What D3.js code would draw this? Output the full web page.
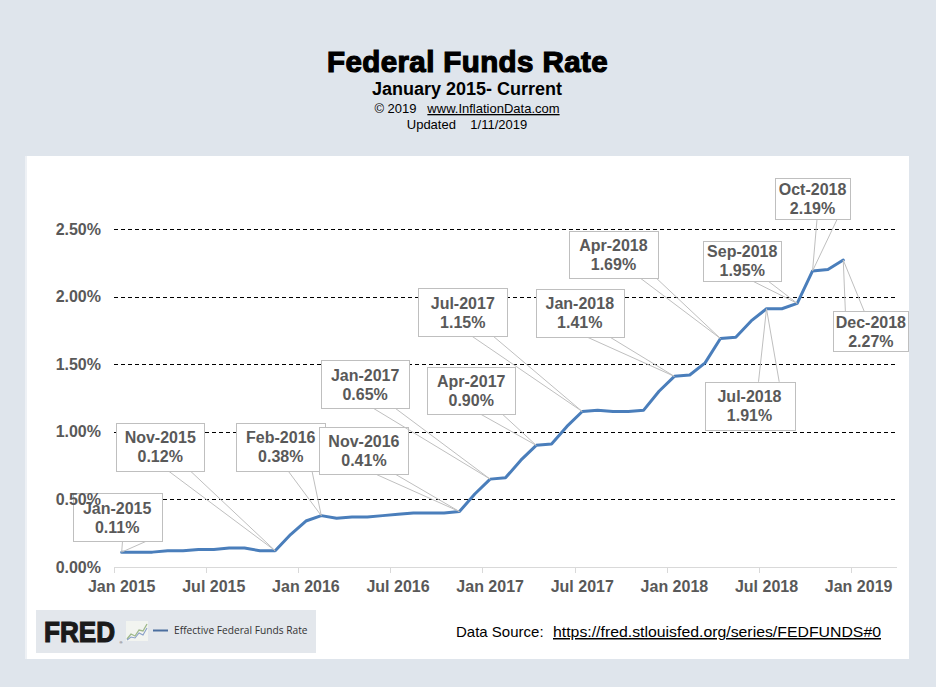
<!DOCTYPE html>
<html>
<head>
<meta charset="utf-8">
<script src="https://cdn.jsdelivr.net/npm/d3@7/dist/d3.min.js"></script>
<style>
  html, body { margin: 0; padding: 0; background: #dfe5ec; }
  svg { display: block; font-family: Arial, "Liberation Sans", sans-serif; }
</style>
</head>
<body>
<svg id="chart" width="936" height="687"></svg>
<script>
// ---------------- DATA ----------------
const months = [];
for (let yr = 2015; yr <= 2019; yr++) {
  for (let m = 1; m <= 12; m++) {
    if (yr === 2019 && m > 3) break;
    months.push(yr + "-" + String(m).padStart(2, "0"));
  }
}
const rateMonths = months.slice(0, 48); // Jan 2015 .. Dec 2018
const rates = [
  0.11, 0.11, 0.11, 0.12, 0.12, 0.13, 0.13, 0.14, 0.14, 0.12, 0.12, 0.24,
  0.34, 0.38, 0.36, 0.37, 0.37, 0.38, 0.39, 0.40, 0.40, 0.40, 0.41, 0.54,
  0.65, 0.66, 0.79, 0.90, 0.91, 1.04, 1.15, 1.16, 1.15, 1.15, 1.16, 1.30,
  1.41, 1.42, 1.51, 1.69, 1.70, 1.82, 1.91, 1.91, 1.95, 2.19, 2.20, 2.27
];
const tickMonths = ["2015-01", "2015-07", "2016-01", "2016-07", "2017-01", "2017-07", "2018-01", "2018-07", "2019-01"];
const tickLabels = ["Jan 2015", "Jul 2015", "Jan 2016", "Jul 2016", "Jan 2017", "Jul 2017", "Jan 2018", "Jul 2018", "Jan 2019"];
const yTicks = [0, 0.5, 1.0, 1.5, 2.0, 2.5];
const calloutMonths = ["2015-01", "2015-11", "2016-02", "2016-11", "2017-01", "2017-04", "2017-07", "2018-01", "2018-04", "2018-09", "2018-10", "2018-12", "2018-07"];
const calloutNames = ["Jan-2015", "Nov-2015", "Feb-2016", "Nov-2016", "Jan-2017", "Apr-2017", "Jul-2017", "Jan-2018", "Apr-2018", "Sep-2018", "Oct-2018", "Dec-2018", "Jul-2018"];

// ---------------- LAYOUT (callout placement, relative to its point) ----------------
// dx, dy: box centre offset from point; w, h: box size; b0, b1: wedge base fractions along edge; top: wedge leaves from top edge
const calloutLayout = [
  { dx: -4.5, dy: -35, w: 89, h: 48, b0: 0.56, b1: 0.83, top: false },
  { dx: -115, dy: -104, w: 88, h: 48, b0: 0.59, b1: 0.84, top: false },
  { dx: -40.5, dy: -69, w: 89, h: 48, b0: 0.58, b1: 0.85, top: false },
  { dx: -95.5, dy: -61, w: 89, h: 47, b0: 0.63, b1: 0.85, top: false },
  { dx: -125, dy: -95, w: 88, h: 48, b0: 0.59, b1: 0.84, top: false },
  { dx: -65, dy: -55, w: 88, h: 47, b0: 0.60, b1: 0.85, top: false },
  { dx: -119.5, dy: -99.5, w: 89, h: 48, b0: 0.60, b1: 0.84, top: false },
  { dx: -94.6, dy: -63.4, w: 88, h: 48, b0: 0.58, b1: 0.84, top: false },
  { dx: -107, dy: -84, w: 89, h: 47, b0: 0.80, b1: 0.98, top: false },
  { dx: -55, dy: -42.4, w: 78, h: 40, b0: 0.63, b1: 0.83, top: false },
  { dx: 0, dy: -72.5, w: 75, h: 41, b0: 0.56, b1: 0.83, top: false },
  { dx: 27.6, dy: 71, w: 75, h: 40, b0: 0.16, b1: 0.41, top: true },
  { dx: -17, dy: 97, w: 90, h: 48, b0: 0.60, b1: 0.83, top: true }
];

// ---------------- DRAW ----------------
const svg = d3.select("#chart");
const W = 936, H = 687;
const plot = { left: 114, right: 897, top: 229, bottom: 567 };

svg.append("rect").attr("width", W).attr("height", H).attr("fill", "#dfe5ec");
// white panel
svg.append("rect").attr("x", 25).attr("y", 156).attr("width", 2).attr("height", 503).attr("fill", "#eef1f5");
svg.append("rect").attr("x", 27).attr("y", 156).attr("width", 882).attr("height", 503).attr("fill", "#ffffff");

// titles
svg.append("text").attr("x", 467.5).attr("y", 72).attr("text-anchor", "middle")
  .attr("font-size", 29.5).attr("font-weight", "bold").attr("fill", "#000")
  .attr("stroke", "#000").attr("stroke-width", 1.2).attr("letter-spacing", 0.4)
  .text("Federal Funds Rate");
svg.append("text").attr("x", 467).attr("y", 95).attr("text-anchor", "middle")
  .attr("font-size", 18).attr("font-weight", "bold").attr("fill", "#000")
  .text("January 2015- Current");
const copy = svg.append("text").attr("x", 467).attr("y", 113).attr("text-anchor", "middle")
  .attr("font-size", 13).attr("fill", "#000");
copy.append("tspan").text("\u00A9 2019\u00A0\u00A0\u00A0");
copy.append("tspan").attr("text-decoration", "underline").text("www.InflationData.com");
svg.append("text").attr("x", 467).attr("y", 129).attr("text-anchor", "middle")
  .attr("font-size", 13).attr("fill", "#000")
  .text("Updated\u00A0\u00A0\u00A0 1/11/2019");

// scales
const x = d3.scaleBand().domain(months).range([plot.left, plot.right]).paddingInner(0).paddingOuter(0);
const y = d3.scaleLinear().domain([0, 2.5]).range([plot.bottom, plot.top]);
const cx = m => x(m) + x.bandwidth() / 2;

// gridlines
svg.append("g").selectAll("line").data(yTicks.filter(v => v > 0)).join("line")
  .attr("x1", plot.left).attr("x2", plot.right)
  .attr("y1", d => Math.round(y(d)) + 0.5).attr("y2", d => Math.round(y(d)) + 0.5)
  .attr("stroke", "#000").attr("stroke-width", 1).attr("stroke-dasharray", "4,3");

// x axis line and ticks
svg.append("line").attr("x1", plot.left).attr("x2", plot.right)
  .attr("y1", plot.bottom + 0.5).attr("y2", plot.bottom + 0.5)
  .attr("stroke", "#d9d9d9").attr("stroke-width", 1);
svg.append("g").selectAll("line").data(tickMonths).join("line")
  .attr("x1", d => Math.round(x(d)) + 0.5).attr("x2", d => Math.round(x(d)) + 0.5)
  .attr("y1", plot.bottom).attr("y2", plot.bottom + 6)
  .attr("stroke", "#d9d9d9").attr("stroke-width", 1);

const xAxis = d3.axisBottom(x).tickValues(tickMonths)
  .tickFormat((d, i) => tickLabels[i]).tickSize(0).tickPadding(0);
const gx = svg.append("g").attr("transform", `translate(0,${plot.bottom})`).call(xAxis);
gx.select(".domain").remove();
gx.selectAll("text").attr("font-size", 16).attr("font-weight", "bold")
  .attr("fill", "#595959").attr("font-family", "Arial, 'Liberation Sans', sans-serif")
  .attr("dy", null).attr("y", 25);

// line
const line = d3.line().x((d, i) => cx(rateMonths[i])).y(d => y(d));
svg.append("path").datum(rates).attr("d", line)
  .attr("fill", "none").attr("stroke", "#4a7ebb").attr("stroke-width", 3)
  .attr("stroke-linejoin", "round").attr("stroke-linecap", "round");

// callouts
const cg = svg.append("g");
calloutMonths.forEach((m, i) => {
  const L = calloutLayout[i];
  const idx = rateMonths.indexOf(m);
  const px = cx(m), py = y(rates[idx]);
  const bx = px + L.dx - L.w / 2, by = py + L.dy - L.h / 2;
  const edgeY = L.top ? by : by + L.h;
  const g = cg.append("g");
  g.append("path")
    .attr("d", `M${bx + L.b0 * L.w},${edgeY} L${px},${py} L${bx + L.b1 * L.w},${edgeY}`)
    .attr("fill", "none").attr("stroke", "#bfbfbf").attr("stroke-width", 1);
  g.append("rect").attr("x", Math.round(bx) + 0.5).attr("y", Math.round(by) + 0.5)
    .attr("width", L.w).attr("height", L.h)
    .attr("fill", "#fff").attr("stroke", "#bfbfbf").attr("stroke-width", 1);
  const t = g.append("text").attr("text-anchor", "middle").attr("font-size", 16)
    .attr("font-weight", "bold").attr("fill", "#595959");
  const ccx = bx + L.w / 2, ccy = by + L.h / 2;
  t.append("tspan").attr("x", ccx).attr("y", ccy - 3.5).text(calloutNames[i]);
  t.append("tspan").attr("x", ccx).attr("y", ccy + 15.5).text(rates[idx].toFixed(2) + "%");
});

// y axis labels (drawn on top)
const yAxis = d3.axisLeft(y).tickValues(yTicks).tickFormat(d => d.toFixed(2) + "%")
  .tickSize(0).tickPadding(13);
const gy = svg.append("g").attr("transform", `translate(${plot.left},0)`).call(yAxis);
gy.select(".domain").remove();
gy.selectAll("text").attr("font-size", 16).attr("font-weight", "bold")
  .attr("fill", "#595959").attr("font-family", "Arial, 'Liberation Sans', sans-serif");

// FRED legend box
svg.append("rect").attr("x", 36).attr("y", 610).attr("width", 280).attr("height", 43).attr("fill", "#e3e7ec");
svg.append("text").attr("x", 44).attr("y", 642).attr("font-size", 29).attr("font-weight", "bold")
  .attr("fill", "#1a1a1a").attr("stroke", "#1a1a1a").attr("stroke-width", 1.2)
  .attr("textLength", 71).attr("lengthAdjust", "spacingAndGlyphs").text("FRED");
svg.append("text").attr("x", 119.5).attr("y", 644).attr("font-size", 4).attr("fill", "#333").text("®");
// small chart icon
svg.append("rect").attr("x", 126).attr("y", 621).attr("width", 22).attr("height", 20).attr("fill", "#f2f4f0");
svg.append("polyline").attr("points", "127,639 131,634 135,636 139,630 143,631 147,624")
  .attr("fill", "none").attr("stroke", "#9fb98a").attr("stroke-width", 1.3);
svg.append("polyline").attr("points", "127,640 131,637 135,638 139,633 143,635 147,628")
  .attr("fill", "none").attr("stroke", "#8aa0c8").attr("stroke-width", 1.1);
svg.append("line").attr("x1", 153).attr("x2", 168).attr("y1", 630.5).attr("y2", 630.5)
  .attr("stroke", "#4b6e9f").attr("stroke-width", 2);
svg.append("text").attr("x", 174).attr("y", 634).attr("font-size", 10.2)
  .attr("font-family", "'Open Sans', 'Noto Sans', sans-serif").attr("fill", "#333")
  .text("Effective Federal Funds Rate");

// data source
const ds = svg.append("text").attr("x", 456).attr("y", 637).attr("font-size", 15).attr("fill", "#000");
ds.append("tspan").text("Data Source:\u00A0 ");
ds.append("tspan").attr("x", 553).attr("text-decoration", "underline")
  .attr("textLength", 328).attr("lengthAdjust", "spacingAndGlyphs")
  .text("https://fred.stlouisfed.org/series/FEDFUNDS#0");
</script>
</body>
</html>
